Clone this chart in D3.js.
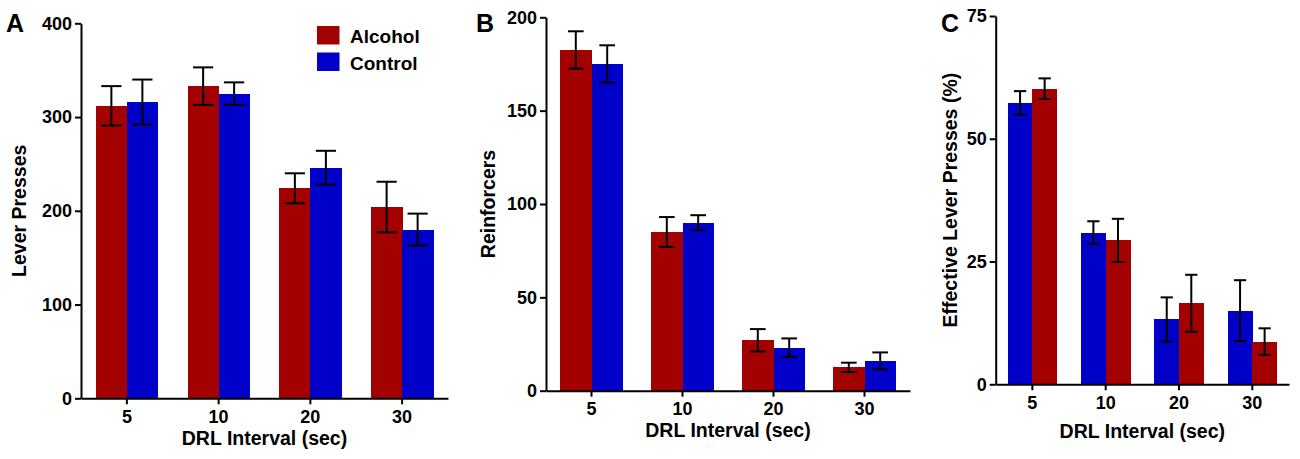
<!DOCTYPE html>
<html>
<head>
<meta charset="utf-8">
<script src="https://cdn.jsdelivr.net/npm/d3@7"></script>
<style>
  body { margin: 0; background: #fff; }
  svg text { font-family: Arial, "Liberation Sans", Helvetica, sans-serif; font-weight: bold; fill: #000; }
</style>
</head>
<body>
<svg id="chart" width="1300" height="459"></svg>
<script>
// DRL intervals (sec)
const intervals = ["5", "10", "20", "30"];

// A: lever presses
const leverAlcohol = [312, 333, 224, 204];
const leverAlcoholErr = [21, 20, 16, 27];
const leverControl = [316, 325, 246, 180];
const leverControlErr = [24, 12, 18, 17];
const leverTicks = [0, 100, 200, 300, 400];

// B: reinforcers
const reinfAlcohol = [182.5, 85, 27, 12.5];
const reinfAlcoholErr = [10, 8, 6, 2.5];
const reinfControl = [175, 90, 23, 16];
const reinfControlErr = [10, 4, 5, 4.5];
const reinfTicks = [0, 50, 100, 150, 200];

// C: effective lever presses (%) - control drawn first here
const effControl = [57.3, 30.9, 13.2, 15];
const effControlErr = [2.4, 2.3, 4.5, 6.2];
const effAlcohol = [60.2, 29.3, 16.5, 8.7];
const effAlcoholErr = [2.1, 4.4, 5.8, 2.7];
const effTicks = [0, 25, 50, 75];

const RED = "#a30000";
const BLUE = "#0000c8";

const svg = d3.select("#chart");

function drawPanel(p) {
  const g = svg.append("g");

  const x = d3.scaleBand()
    .domain(intervals)
    .range([p.left, p.right])
    .paddingInner(p.pad)
    .paddingOuter(p.pad / 2);

  const sub = d3.scaleBand()
    .domain(p.series.map((s) => s.name))
    .range([0, x.bandwidth()]);

  const y = d3.scaleLinear()
    .domain([0, p.max])
    .range([p.bottom, p.top]);

  const rows = [];
  p.series.forEach((s) => {
    s.values.forEach((v, i) => {
      rows.push({ cat: intervals[i], name: s.name, color: s.color, value: v, err: s.errors[i] });
    });
  });

  g.append("g")
    .attr("shape-rendering", "crispEdges")
    .selectAll("rect")
    .data(rows)
    .join("rect")
    .attr("x", (d) => x(d.cat) + sub(d.name))
    .attr("y", (d) => y(d.value))
    .attr("width", sub.bandwidth() + 0.5)
    .attr("height", (d) => y(0) - y(d.value))
    .attr("fill", (d) => d.color);

  const capHalf = sub.bandwidth() * p.cap / 2;
  const eb = g.append("g")
    .attr("stroke", "#000")
    .attr("stroke-width", 2)
    .selectAll("g")
    .data(rows)
    .join("g")
    .attr("transform", (d) => `translate(${x(d.cat) + sub(d.name) + sub.bandwidth() / 2},0)`);

  eb.append("line")
    .attr("y1", (d) => y(d.value - d.err))
    .attr("y2", (d) => y(d.value + d.err));
  eb.append("line")
    .attr("x1", -capHalf).attr("x2", capHalf)
    .attr("y1", (d) => y(d.value + d.err))
    .attr("y2", (d) => y(d.value + d.err));
  eb.append("line")
    .attr("x1", -capHalf).attr("x2", capHalf)
    .attr("y1", (d) => y(d.value - d.err))
    .attr("y2", (d) => y(d.value - d.err));

  const yAxis = g.append("g")
    .attr("transform", `translate(${p.left},0)`)
    .call(d3.axisLeft(y).tickValues(p.ticks).tickSize(6).tickSizeOuter(0).tickPadding(3));

  const xAxis = g.append("g")
    .attr("transform", `translate(0,${p.bottom})`)
    .call(d3.axisBottom(x).tickSize(6).tickSizeOuter(0).tickPadding(6));

  [yAxis, xAxis].forEach((ax) => {
    ax.select(".domain").attr("stroke", "#000").attr("stroke-width", 2);
    ax.selectAll(".tick line").attr("stroke", "#000").attr("stroke-width", 2);
    ax.selectAll(".tick text").attr("font-size", 18).attr("fill", "#000");
  });

  g.append("text")
    .attr("x", p.letterX)
    .attr("y", 32)
    .attr("font-size", 25)
    .text(p.letter);

  g.append("text")
    .attr("transform", `translate(${p.yTitleX},${(p.top + p.bottom) / 2}) rotate(-90)`)
    .attr("text-anchor", "middle")
    .attr("dy", "0.35em")
    .attr("font-size", 19.5)
    .text(p.yTitle);

  g.append("text")
    .attr("x", (p.left + p.right) / 2)
    .attr("y", p.xTitleY)
    .attr("text-anchor", "middle")
    .attr("font-size", 19.5)
    .text("DRL Interval (sec)");
}

drawPanel({
  letter: "A", letterX: 6,
  left: 81, right: 448, top: 23.3, bottom: 398.3,
  pad: 0.324, cap: 0.65, max: 400, ticks: leverTicks,
  yTitle: "Lever Presses", yTitleX: 19.5, xTitleY: 445,
  series: [
    { name: "Alcohol", color: RED, values: leverAlcohol, errors: leverAlcoholErr },
    { name: "Control", color: BLUE, values: leverControl, errors: leverControlErr }
  ]
});

drawPanel({
  letter: "B", letterX: 476,
  left: 546, right: 910, top: 17.3, bottom: 390.7,
  pad: 0.31, cap: 0.5, max: 200, ticks: reinfTicks,
  yTitle: "Reinforcers", yTitleX: 488.3, xTitleY: 437,
  series: [
    { name: "Alcohol", color: RED, values: reinfAlcohol, errors: reinfAlcoholErr },
    { name: "Control", color: BLUE, values: reinfControl, errors: reinfControlErr }
  ]
});

drawPanel({
  letter: "C", letterX: 941,
  left: 995.7, right: 1289, top: 16, bottom: 384.3,
  pad: 0.33, cap: 0.5, max: 75, ticks: effTicks,
  yTitle: "Effective Lever Presses (%)", yTitleX: 950, xTitleY: 438,
  series: [
    { name: "Control", color: BLUE, values: effControl, errors: effControlErr },
    { name: "Alcohol", color: RED, values: effAlcohol, errors: effAlcoholErr }
  ]
});

// legend (panel A)
const legendItems = [["Alcohol", RED], ["Control", BLUE]];
const legend = svg.append("g")
  .selectAll("g")
  .data(legendItems)
  .join("g")
  .attr("transform", (d, i) => `translate(317,${26 + i * 26.5})`);
legend.append("rect")
  .attr("width", 22.5)
  .attr("height", 18.5)
  .attr("fill", (d) => d[1]);
legend.append("text")
  .attr("x", 33)
  .attr("y", 17)
  .attr("font-size", 19)
  .text((d) => d[0]);
</script>
</body>
</html>
